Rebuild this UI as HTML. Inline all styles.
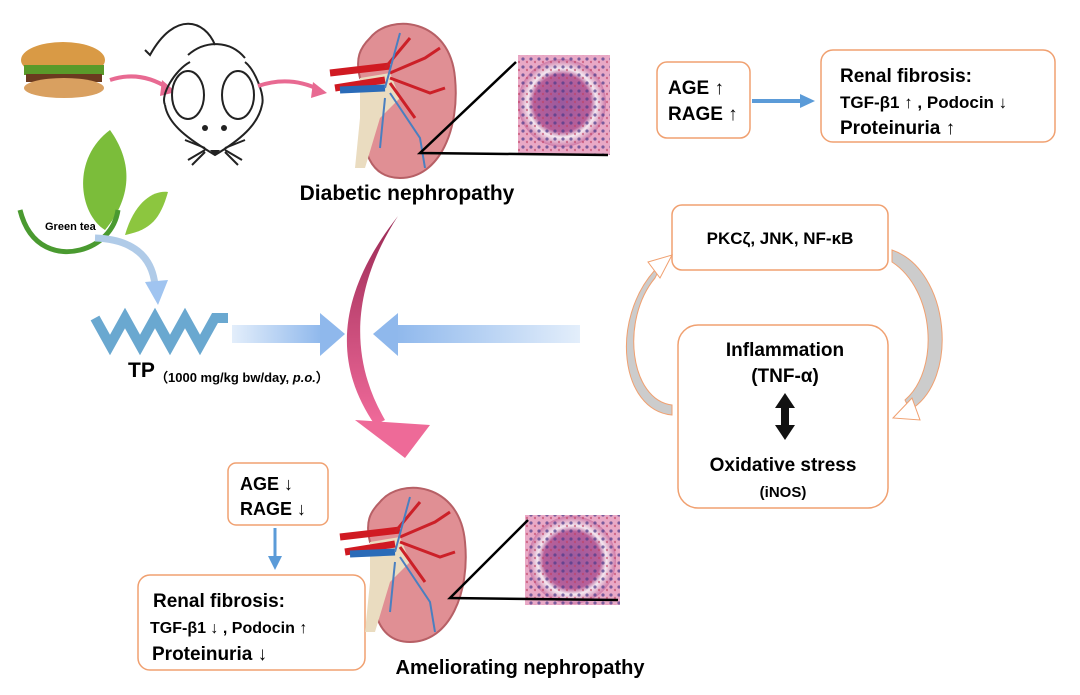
<!DOCTYPE html>
<html><head><meta charset="utf-8"><style>
body{margin:0;background:#fff;width:1080px;height:695px;overflow:hidden}
svg{display:block;font-family:"Liberation Sans",Arial,sans-serif;font-weight:bold}
</style></head><body>
<svg width="1080" height="695" viewBox="0 0 1080 695">
<defs>
<linearGradient id="pk" x1="0" y1="0" x2="0" y2="1"><stop offset="0" stop-color="#9b2a55"/><stop offset="1" stop-color="#f06a9a"/></linearGradient>
<linearGradient id="bl" x1="0" y1="0" x2="1" y2="0"><stop offset="0" stop-color="#e3eefb"/><stop offset="1" stop-color="#8fb8ec"/></linearGradient>
<linearGradient id="bl2" x1="1" y1="0" x2="0" y2="0"><stop offset="0" stop-color="#e3eefb"/><stop offset="1" stop-color="#8fb8ec"/></linearGradient>
<radialGradient id="gl"><stop offset="0" stop-color="#9a5a9e"/><stop offset=".65" stop-color="#b8609a"/><stop offset=".78" stop-color="#f4e8f0"/><stop offset="1" stop-color="#d07aa8"/></radialGradient>
<pattern id="dots" width="8" height="8" patternUnits="userSpaceOnUse"><rect width="8" height="8" fill="none"/><circle cx="3" cy="3" r="1.6" fill="#4a3a8a" opacity=".7"/><circle cx="7" cy="6" r="1.2" fill="#c04060" opacity=".6"/></pattern>
<g id="kid">
<path d="M40 20 C 60 -5 120 0 125 60 C 130 110 110 160 70 160 C 40 160 30 130 35 100 C 45 80 40 70 30 60 C 25 40 30 30 40 20Z" fill="#e08f94" stroke="#b76066" stroke-width="2"/>
<path d="M30 60 L60 55 L70 80 L50 100 L35 150 L25 150 L30 100Z" fill="#eadcc0"/>
<path d="M0 55 L60 48 M5 70 L55 62" stroke="#d01a22" stroke-width="7"/>
<path d="M10 72 L55 70" stroke="#2a6bb8" stroke-width="7"/>
<path d="M55 50 L80 20 M60 55 L95 40 L110 30 M60 60 L100 75 L115 70 M60 65 L85 100" stroke="#cc2028" stroke-width="3" fill="none"/>
<path d="M55 70 L70 15 M60 75 L90 120 L95 150 M55 80 L50 130" stroke="#4a7fc0" stroke-width="2" fill="none"/>
</g>
</defs>

<!-- burger -->
<ellipse cx="63" cy="60" rx="42" ry="18" fill="#d99a45"/>
<rect x="24" y="65" width="80" height="10" fill="#5a9a2a"/>
<rect x="26" y="74" width="76" height="8" fill="#6b3a1f"/>
<ellipse cx="64" cy="88" rx="40" ry="10" fill="#d9a060"/>
<path d="M110 80 Q140 70 168 88" stroke="#e86a92" stroke-width="4" fill="none"/>
<path d="M162 80 L176 92 L160 96Z" fill="#e86a92"/>

<!-- mouse -->
<g fill="none" stroke="#222" stroke-width="2">
<path d="M190 62 C175 70 160 95 165 105 M245 62 C255 70 265 95 262 105"/>
<path d="M188 55 C205 40 230 40 245 58"/>
<path d="M165 105 C168 125 190 140 215 155 C240 140 258 125 262 105"/>
<ellipse cx="188" cy="95" rx="16" ry="24" fill="#fff"/><ellipse cx="238" cy="95" rx="16" ry="24" fill="#fff"/>
<path d="M215 45 C205 20 175 10 150 55 L145 50"/>
<path d="M205 148 L185 140 M205 150 L188 160 M205 152 L192 165 M225 148 L245 140 M225 150 L242 160 M225 152 L238 165"/>
</g>
<circle cx="205" cy="128" r="3" fill="#222"/><circle cx="224" cy="128" r="3" fill="#222"/>
<path d="M210 150 L220 150 L215 156Z" fill="#222"/>
<path d="M258 86 Q290 75 320 90" stroke="#e86a92" stroke-width="4" fill="none"/>
<path d="M313 82 L327 93 L311 98Z" fill="#e86a92"/>

<!-- kidney top -->
<use href="#kid" x="330" y="18"/>
<rect x="518" y="55" width="92" height="100" fill="#e9a9c6"/>
<circle cx="562" cy="103" r="44" fill="url(#gl)"/>
<rect x="518" y="55" width="92" height="100" fill="url(#dots)"/>
<path d="M516 62 L420 153 L608 155" stroke="#000" stroke-width="2.5" fill="none"/>
<text x="407" y="200" font-size="21" text-anchor="middle">Diabetic nephropathy</text>

<!-- top right boxes -->
<rect x="657" y="62" width="93" height="76" rx="10" fill="#fff" stroke="#f0a070" stroke-width="1.5"/>
<text x="668" y="94" font-size="19">AGE ↑</text>
<text x="668" y="120" font-size="19">RAGE ↑</text>
<path d="M752 101 L805 101" stroke="#5b9bd8" stroke-width="4"/>
<path d="M800 94 L815 101 L800 108Z" fill="#5b9bd8"/>
<rect x="821" y="50" width="234" height="92" rx="12" fill="#fff" stroke="#f0a070" stroke-width="1.5"/>
<text x="840" y="82" font-size="19">Renal fibrosis:</text>
<text x="840" y="108" font-size="17">TGF-β1 ↑ , Podocin ↓</text>
<text x="840" y="134" font-size="19">Proteinuria ↑</text>

<!-- green tea -->
<path d="M110 130 C70 160 80 215 105 230 C130 200 135 165 110 130Z" fill="#7bbd3a"/>
<path d="M125 235 C135 200 155 190 168 192 C160 220 150 230 125 235Z" fill="#8cc63f"/>
<path d="M20 210 C30 250 60 255 80 250 C100 245 115 230 118 210" stroke="#4a9a30" stroke-width="5" fill="none"/>
<text x="45" y="230" font-size="11" font-weight="bold">Green tea</text>
<path d="M95 238 Q150 240 155 285" stroke="#b0cbe8" stroke-width="7" fill="none"/>
<path d="M145 282 L158 305 L168 280Z" fill="#a0c4f0"/>

<!-- TP molecule -->
<path d="M95 318 L110 345 L125 318 L140 345 L155 318 L170 345 L185 318 L200 345 L215 318 L228 318" stroke="#6aa8d0" stroke-width="10" fill="none"/>
<text x="128" y="377" font-size="21">TP</text>
<text x="155" y="382" font-size="13">（1000 mg/kg bw/day, <tspan font-style="italic">p.o.</tspan>）</text>
<rect x="232" y="325" width="90" height="18" fill="url(#bl)"/>
<path d="M320 313 L345 334 L320 356Z" fill="#8fb8ec"/>
<rect x="395" y="325" width="185" height="18" fill="url(#bl2)"/>
<path d="M398 313 L373 334 L398 356Z" fill="#8fb8ec"/>

<!-- pink curved arrow -->
<path d="M398 216 C350 290 350 360 385 420 L375 425 C330 360 340 290 398 216Z" fill="url(#pk)"/>
<path d="M355 420 L430 425 L405 458Z" fill="#ee6a98"/>

<!-- cycle -->
<rect x="672" y="205" width="216" height="65" rx="10" fill="#fff" stroke="#f0a070" stroke-width="1.5"/>
<text x="780" y="244" font-size="17" text-anchor="middle">PKCζ, JNK, NF-κB</text>
<rect x="678" y="325" width="210" height="183" rx="20" fill="#fff" stroke="#f0a070" stroke-width="1.5"/>
<text x="785" y="356" font-size="19" text-anchor="middle">Inflammation</text>
<text x="785" y="382" font-size="19" text-anchor="middle">(TNF-α)</text>
<path d="M785 393 L775 408 L781 408 L781 425 L775 425 L785 440 L795 425 L789 425 L789 408 L795 408Z" fill="#111"/>
<text x="783" y="471" font-size="19" text-anchor="middle">Oxidative stress</text>
<text x="783" y="497" font-size="15" text-anchor="middle">(iNOS)</text>
<path d="M672 415 C620 410 610 320 655 270 L665 258 L655 278 C620 320 630 400 672 405Z" fill="#ccc" stroke="#f0a070"/>
<path d="M648 262 L672 255 L660 278Z" fill="#fff" stroke="#f0a070"/>
<path d="M892 250 C950 270 960 380 910 410 L905 400 C940 370 935 290 892 262Z" fill="#ccc" stroke="#f0a070"/>
<path d="M912 398 L893 418 L920 420Z" fill="#fff" stroke="#f0a070"/>

<!-- bottom -->
<rect x="228" y="463" width="100" height="62" rx="8" fill="#fff" stroke="#f0a070" stroke-width="1.5"/>
<text x="240" y="490" font-size="18">AGE ↓</text>
<text x="240" y="515" font-size="18">RAGE ↓</text>
<path d="M275 528 L275 560" stroke="#5b9bd8" stroke-width="3"/>
<path d="M268 556 L275 570 L282 556Z" fill="#5b9bd8"/>
<rect x="138" y="575" width="227" height="95" rx="12" fill="#fff" stroke="#f0a070" stroke-width="1.5"/>
<text x="153" y="607" font-size="19">Renal fibrosis:</text>
<text x="150" y="633" font-size="16">TGF-β1 ↓ , Podocin ↑</text>
<text x="152" y="660" font-size="19">Proteinuria ↓</text>
<use href="#kid" x="340" y="482"/>
<rect x="525" y="515" width="95" height="90" fill="#e9a9c6"/>
<circle cx="572" cy="560" r="44" fill="url(#gl)"/>
<rect x="525" y="515" width="95" height="90" fill="url(#dots)"/>
<path d="M528 520 L450 598 L618 600" stroke="#000" stroke-width="2.5" fill="none"/>
<text x="520" y="674" font-size="20" text-anchor="middle">Ameliorating nephropathy</text>
</svg>
</body></html>
